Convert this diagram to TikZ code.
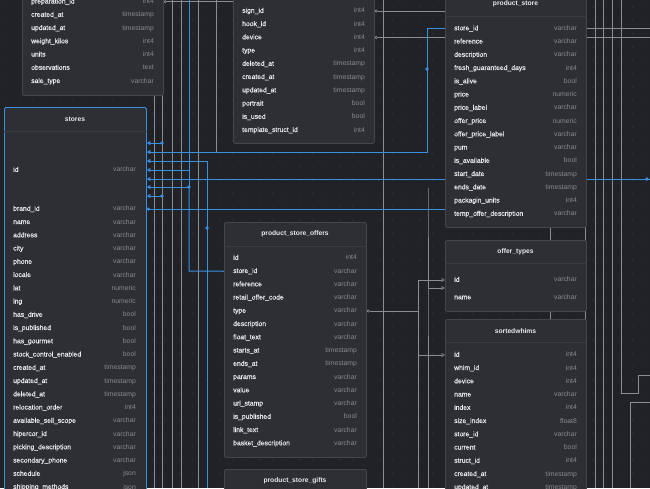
\documentclass[tikz,border=0pt]{standalone}
\usepackage{fontspec}
\setmainfont{Liberation Sans}
\newfontfamily\namefont[FakeBold=0.35]{Liberation Sans}
\usetikzlibrary{arrows.meta}
\pgfdeclarelayer{bg}
\pgfsetlayers{bg,main}

\definecolor{bgcol}{HTML}{212226}
\definecolor{dotcol}{HTML}{3A3B40}
\definecolor{tblfill}{HTML}{2E2F35}
\definecolor{tbledge}{HTML}{45464C}
\definecolor{seprule}{HTML}{3B3C42}
\definecolor{fldtext}{HTML}{EAEAEC}
\definecolor{typetext}{HTML}{8A8B90}
\definecolor{relblue}{HTML}{3B8EE0}
\definecolor{relgray}{HTML}{8C8D92}

\tikzset{
  tbl/.style={draw=tbledge, fill=tblfill, line width=0.8pt, rounded corners=1.5pt,
    anchor=north west, inner sep=0pt},
  tblhead/.style={font=\fontsize{6.7}{8}\selectfont\bfseries, text=fldtext},
  fld/.style={font=\namefont\fontsize{6.8}{8}\selectfont, text=fldtext, anchor=west,
    inner sep=0pt, text height=5pt, text depth=1.5pt},
  ftype/.style={font=\fontsize{6.8}{8}\selectfont, text=typetext, anchor=east,
    inner sep=0pt, text height=5pt, text depth=1.5pt},
  hsep/.style={draw=seprule, line width=0.6pt},
  rel/.style={draw=relgray, line width=0.6pt},
  relsel/.style={draw=relblue, line width=1pt},
  toone/.style={-{Triangle[open,length=3.5pt,width=4pt]}},
  fromone/.style={{Circle[open,length=3pt]}-},
  jdot/.style={circle, fill=relblue, inner sep=0pt, minimum size=3.6pt},
}

\begin{document}
\begin{tikzpicture}[x=1pt,y=-1pt]
  \useasboundingbox (0,0) rectangle (650,488);
  \clip (0,0) rectangle (650,488);

  %% tables
  \node[tbl, minimum width=141pt, minimum height=215pt] (prep) at (22,-120) {};
  \node[tbl, minimum width=141pt, minimum height=200pt] (tmpl) at (233,-57) {};
  \node[tbl, draw=relblue, minimum width=142pt, minimum height=400pt] (stores) at (4,107) {};
  \node[tbl, minimum width=142pt, minimum height=235pt] (pso) at (224,222) {};
  \node[tbl, minimum width=142pt, minimum height=60pt] (psg) at (224,469) {};
  \node[tbl, minimum width=141pt, minimum height=235pt] (ps) at (445,-8) {};
  \node[tbl, minimum width=141pt, minimum height=71pt] (ot) at (445,240) {};
  \node[tbl, minimum width=141pt, minimum height=200pt] (sw) at (445,319) {};

  %% headers
  \node[tblhead] (stores-h) at (75,119) {stores};
  \node[tblhead] (pso-h) at (295,234) {product\_store\_offers};
  \node[tblhead] (psg-h) at (295,481) {product\_store\_gifts};
  \node[tblhead] (ps-h) at (515.5,4) {product\_store};
  \node[tblhead] (ot-h) at (515.5,252) {offer\_types};
  \node[tblhead] (sw-h) at (515.5,331) {sortedwhims};
  \draw[hsep] (stores.west |- 0,131) -- (stores.east |- 0,131);
  \draw[hsep] (pso.west |- 0,246) -- (pso.east |- 0,246);
  \draw[hsep] (psg.west |- 0,493) -- (psg.east |- 0,493);
  \draw[hsep] (ps.west |- 0,16) -- (ps.east |- 0,16);
  \draw[hsep] (ot.west |- 0,263) -- (ot.east |- 0,263);
  \draw[hsep] (sw.west |- 0,342) -- (sw.east |- 0,342);

  %% rows
  \foreach \n/\t [count=\i from 0] in {preparation\_id/int4, created\_at/timestamp,
      updated\_at/timestamp, weight\_kilos/int4, units/int4, observations/text,
      sale\_type/varchar}{
    \node[fld] (prep-\i) at (31,{1.75+\i*13.25}) {\n};
    \node[ftype] at (154,{1.75+\i*13.25}) {\t};
  }
  \foreach \n/\t [count=\i from 0] in {sign\_id/int4, hook\_id/int4, device/int4,
      type/int4, deleted\_at/timestamp, created\_at/timestamp, updated\_at/timestamp,
      portrait/bool, is\_used/bool, template\_struct\_id/int4}{
    \node[fld] (tmpl-\i) at (242,{11+\i*13.25}) {\n};
    \node[ftype] at (365,{11+\i*13.25}) {\t};
  }
  \node[fld] (st-id) at (13,170) {id};
  \node[ftype] at (136,170) {varchar};
  \foreach \n/\t [count=\i from 0] in {brand\_id/varchar, name/varchar, address/varchar,
      city/varchar, phone/varchar, locale/varchar, lat/numeric, lng/numeric,
      has\_drive/bool, is\_published/bool, has\_gourmet/bool,
      stock\_control\_enabled/bool, created\_at/timestamp, updated\_at/timestamp,
      deleted\_at/timestamp, relocation\_order/int4, available\_sell\_scope/varchar,
      hipercor\_id/varchar, picking\_description/varchar, secondary\_phone/varchar,
      schedule/json, shipping\_methods/json}{
    \node[fld] (st-\i) at (13,{209+\i*13.25}) {\n};
    \node[ftype] at (136,{209+\i*13.25}) {\t};
  }
  \foreach \n/\t [count=\i from 0] in {id/int4, store\_id/varchar, reference/varchar,
      retail\_offer\_code/varchar, type/varchar, description/varchar,
      float\_text/varchar, starts\_at/timestamp, ends\_at/timestamp, params/varchar,
      value/varchar, url\_stamp/varchar, is\_published/bool, link\_text/varchar,
      basket\_description/varchar}{
    \node[fld] (pso-\i) at (233,{258+\i*13.25}) {\n};
    \node[ftype] at (357,{258+\i*13.25}) {\t};
  }
  \foreach \n/\t [count=\i from 0] in {store\_id/varchar, reference/varchar,
      description/varchar, fresh\_guaranteed\_days/int4, is\_alive/bool, price/numeric,
      price\_label/varchar, offer\_price/numeric, offer\_price\_label/varchar,
      pum/varchar, is\_available/bool, start\_date/timestamp, ends\_date/timestamp,
      packagin\_units/int4, temp\_offer\_description/varchar}{
    \node[fld] (ps-\i) at (454,{28.5+\i*13.25}) {\n};
    \node[ftype] at (577,{28.5+\i*13.25}) {\t};
  }
  \node[fld] (ot-0) at (454,280) {id};
  \node[ftype] at (577,280) {varchar};
  \node[fld] (ot-1) at (454,297.5) {name};
  \node[ftype] at (577,297.5) {varchar};
  \foreach \n/\t [count=\i from 0] in {id/int4, whim\_id/int4, device/int4,
      name/varchar, index/int4, size\_index/float8, store\_id/varchar, current/bool,
      struct\_id/int4, created\_at/timestamp, updated\_at/timestamp}{
    \node[fld] (sw-\i) at (454,{355+\i*13.25}) {\n};
    \node[ftype] at (577,{355+\i*13.25}) {\t};
  }

  %% free ends and bends
  \coordinate (topA) at (154,0);   \coordinate (botA) at (154,488);
  \coordinate (topB) at (162,0);   \coordinate (botB) at (162,488);
  \coordinate (topC) at (172,0);   \coordinate (botC) at (172,488);
  \coordinate (topD) at (181,0);   \coordinate (botD) at (181,488);
  \coordinate (topE) at (198,0);   \coordinate (botE) at (198,488);
  \coordinate (topF) at (216,0);   \coordinate (endF) at (216,152);
  \coordinate (topG) at (383,0);   \coordinate (botG) at (383,488);
  \coordinate (topH) at (550,0);   \coordinate (botH) at (550,488);
  \coordinate (topI) at (585,0);   \coordinate (botI) at (585,488);
  \coordinate (edgeR) at (650,0);

  \begin{pgfonlayer}{bg}
    \fill[bgcol] (0,0) rectangle (650,488);
    \foreach \gx in {0,...,48}
      \foreach \gy in {0,...,36}
        \fill[dotcol] ({\gx*13.33+6},{\gy*13.33+7}) circle (0.55pt);

    %% gray relations
    \foreach \a/\b in {topA/botA, topB/botB, topC/botC, topD/botD, topE/botE,
        topF/endF, topG/botG, topH/botH, topI/botI}
      \draw[rel] (\a) -- (\b);
    \foreach \gx in {595,603,612}
      \draw[rel] (\gx,0) -- (\gx,488);
    \draw[rel] (621,0) -- (621,393) -- (638,393) -- (638,375) -- (edgeR |- 0,375);
    \draw[rel] (630,488) -- (630,402) -- (edgeR |- 0,402);
    \draw[rel] (ps.east |- 0,28) -- (edgeR |- 0,28);
    \draw[rel, fromone] (prep.east |- prep-0) -- (tmpl.west |- prep-0);
    \draw[rel, fromone] (tmpl.east |- tmpl-0) -- (ps.west |- tmpl-0);
    \draw[rel, fromone] (tmpl.east |- tmpl-2) -- (edgeR |- tmpl-2);
    \draw[rel, toone] (418,488) -- (418,280) -- (ot.west |- ot-0);
    \draw[rel, fromone] (pso.east |- pso-4) -- (418,311);
    \draw[rel, toone] (418,355) -- (sw.west |- sw-0);
    \draw[rel, toone] (428,488) -- (428,188) -- (428,288) -- (ot.west |- 0,288);

    %% selected table: stores
    \draw[relsel, toone] (ps.west |- ps-0) -- (427,28.5) -- (427,152) -- (stores.east |- 0,152);
    \draw[relsel, toone] (edgeR |- 0,179) -- (stores.east |- 0,179);
    \draw[relsel, toone] (189,0) -- (189,187) -- (stores.east |- 0,187);
    \draw[relsel] (pso.west |- pso-1) -- (189,271) -- (189,187);
    \draw[relsel, toone] (189,170) -- (stores.east |- st-id);
    \draw[relsel, toone] (207,488) -- (207,161) -- (stores.east |- 0,161);
    \draw[relsel, toone] (162,143) -- (stores.east |- 0,143);
    \draw[relsel, toone] (162,196) -- (stores.east |- 0,196);
    \draw[relsel, fromone] (stores.east |- st-0) -- (ps.west |- st-0);
    \node[jdot] (j1) at (162,143) {};
    \node[jdot] (j2) at (162,196) {};
    \node[jdot] (j3) at (189,187) {};
    \node[jdot] (j4) at (207,228) {};
    \node[jdot] (j5) at (427,69) {};
    \node[jdot] (j6) at (647,179) {};
  \end{pgfonlayer}
\end{tikzpicture}
\end{document}
